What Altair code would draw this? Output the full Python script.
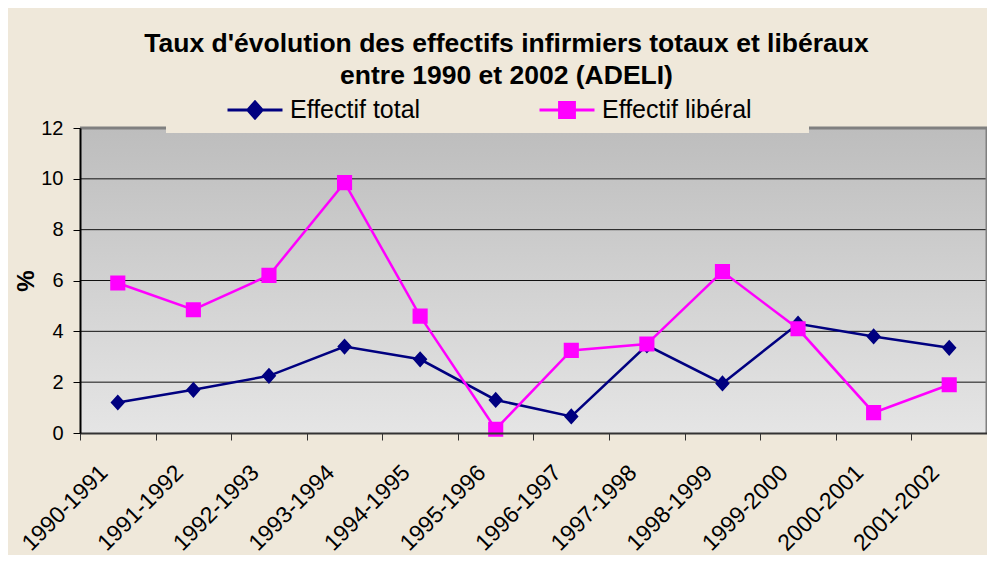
import altair as alt
import pandas as pd

categories = ["1990-1991", "1991-1992", "1992-1993", "1993-1994", "1994-1995", "1995-1996",
              "1996-1997", "1997-1998", "1998-1999", "1999-2000", "2000-2001", "2001-2002"]
total = [1.2, 1.7, 2.25, 3.4, 2.9, 1.3, 0.65, 3.45, 1.95, 4.3, 3.8, 3.35]
liberal = [5.9, 4.85, 6.2, 9.85, 4.6, 0.15, 3.25, 3.5, 6.35, 4.1, 0.8, 1.9]
series_names = ["Effectif total", "Effectif libéral"]
series_colors = ["#000080", "#FF00FF"]
grid_values = [2, 4, 6, 8, 10]
y_ticks = [0, 2, 4, 6, 8, 10, 12]

W, H = 907, 305
BEIGE = "#EFE8DA"
FONT = "Liberation Sans"

diamond_path = "M-1,0L1,0M0,-0.29L0.26,0L0,0.29L-0.26,0Z"
square_path = "M-1,0L1,0M-0.27,-0.27L0.27,-0.27L0.27,0.27L-0.27,0.27Z"
shapes = [diamond_path, square_path]
legend_x = [146, 458]

ys = alt.Scale(domain=[0, 12], nice=False, zero=True)
xs = alt.Scale(domain=categories, type="band", paddingInner=0, paddingOuter=0)

y_axis = alt.Axis(
    title="%", titleFont=FONT, titleFontSize=24, titleFontWeight="bold", titleColor="black",
    titlePadding=2, values=y_ticks, labelFont=FONT, labelFontSize=20, labelColor="black",
    labelPadding=10, tickSize=7, tickColor="black", domainColor="black", domainWidth=2,
    grid=False, zindex=1)

one = pd.DataFrame({"k": [0]})

bg = alt.Chart(one).mark_rect(
    fill=alt.LinearGradient(
        gradient="linear",
        stops=[alt.GradientStop(color="#BDBDBD", offset=0),
               alt.GradientStop(color="#E5E5E5", offset=1)],
        x1=0, x2=0, y1=0, y2=1),
).encode(x=alt.value(0), x2=alt.value(W), y=alt.value(0), y2=alt.value(H))

grid = alt.Chart(pd.DataFrame({"g": grid_values})).mark_rule(
    color="#111111", strokeWidth=1
).encode(y=alt.Y("g:Q", scale=ys, axis=y_axis), x=alt.value(0), x2=alt.value(W))

top_border = alt.Chart(one).mark_rule(color="#808080", strokeWidth=3).encode(
    y=alt.datum(12, scale=ys, axis=y_axis), x=alt.value(0), x2=alt.value(W))
right_border = alt.Chart(one).mark_rule(color="#808080", strokeWidth=3).encode(
    x=alt.value(W), y=alt.value(-1), y2=alt.value(H))

legend_box = alt.Chart(one).mark_rect(fill=BEIGE).encode(
    x=alt.value(86), x2=alt.value(729), y=alt.value(-25), y2=alt.value(5))

x_enc = alt.X("periode:N", scale=xs, sort=categories, axis=alt.Axis(
    title=None, labelAngle=-45, labelFont=FONT, labelFontSize=23, labelColor="black",
    tickBand="extent", tickSize=7, tickColor="#333333", tickWidth=1,
    domainColor="#333333", domainWidth=2, labelPadding=21, labelOffset=-22,
    grid=False, zindex=1))
y_enc = alt.Y("valeur:Q", scale=ys, axis=y_axis)

series_layers = []
for name, vals, col, shp, lx in zip(series_names, [total, liberal], series_colors, shapes, legend_x):
    d = pd.DataFrame({"periode": categories, "valeur": vals, "serie": name})
    line = alt.Chart(d).mark_line(strokeWidth=2.5, color=col).encode(x=x_enc, y=y_enc)
    pts = alt.Chart(d).mark_point(filled=True, size=3136, opacity=1, shape=shp).encode(
        x=x_enc, y=y_enc,
        color=alt.Color("serie:N", scale=alt.Scale(domain=[name], range=[col]),
                        legend=alt.Legend(
                            title=None, orient="none", legendX=lx, legendY=-47,
                            labelFont=FONT, labelFontSize=25, labelColor="black",
                            labelOffset=6, padding=0, symbolType=shp, symbolSize=3025,
                            symbolStrokeWidth=3, symbolStrokeColor=col,
                            symbolFillColor=col, symbolOpacity=1, zindex=2)),
    )
    series_layers += [line, pts]

chart = alt.layer(bg, grid, top_border, right_border, legend_box, *series_layers).resolve_scale(
    color="independent"
).properties(
    width=W, height=H,
    autosize=alt.AutoSizeParams(type="none"),
    padding={"left": 72, "top": 120, "right": 0, "bottom": 122},
    background=BEIGE,
    title=alt.TitleParams(
        text=["Taux d'évolution des effectifs infirmiers totaux et libéraux",
              "entre 1990 et 2002 (ADELI)"],
        font=FONT, fontSize=26.5, fontWeight="bold", color="black",
        anchor="middle", frame="group", dx=-27, offset=-8, lineHeight=32),
).configure_view(stroke=None)

chart.save("out.html", embed_options={"renderer": "svg", "actions": False})
